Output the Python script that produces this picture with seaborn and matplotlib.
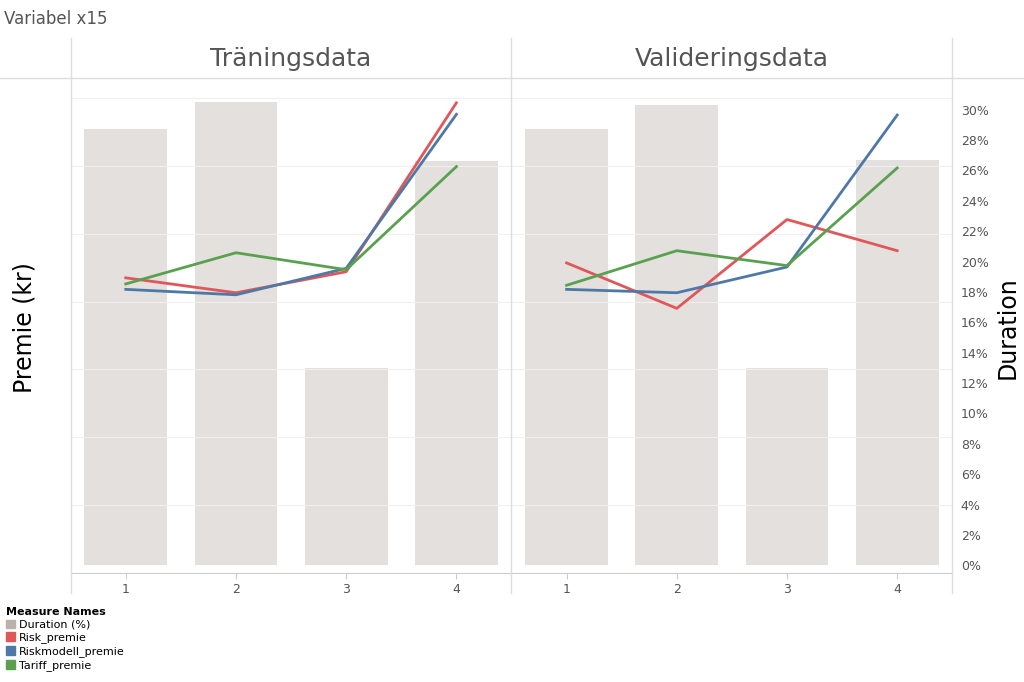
import matplotlib.pyplot as plt
import pandas as pd
import seaborn as sns
from matplotlib.lines import Line2D
from matplotlib.patches import Patch

groups = ["1", "2", "3", "4"]
panels = ["Träningsdata", "Valideringsdata"]
duration = {
    "Träningsdata": [28.75, 30.5, 13.0, 26.6],
    "Valideringsdata": [28.75, 30.3, 13.0, 26.7],
}
risk_premie = {
    "Träningsdata": [435, 413, 444, 693],
    "Valideringsdata": [457, 390, 521, 475],
}
riskmodell_premie = {
    "Träningsdata": [418, 410, 449, 676],
    "Valideringsdata": [418, 413, 451, 675],
}
tariff_premie = {
    "Träningsdata": [426, 472, 447, 599],
    "Valideringsdata": [424, 475, 453, 597],
}
colors = {"Duration (%)": "#bab0ac", "Risk_premie": "#e15759",
          "Riskmodell_premie": "#4e79a7", "Tariff_premie": "#59a14f"}
bar_color = "#e4e0de"
grey = "#555555"

fig = plt.figure(figsize=(10.24, 6.82), dpi=100)
x0, pw = 0.069, 0.4305
bottom, height = 0.160, 0.726

for i, panel in enumerate(panels):
    ax = fig.add_axes([x0 + i * pw, bottom, pw, height])
    bars = pd.DataFrame({"grupp": groups, "duration": duration[panel]})
    sns.barplot(data=bars, x="grupp", y="duration", color=bar_color,
                width=0.75, saturation=1, ax=ax)

    lx = ax.twinx()
    lines = pd.DataFrame({
        "x": list(range(4)) * 3,
        "premie": risk_premie[panel] + riskmodell_premie[panel] + tariff_premie[panel],
        "serie": ["Risk_premie"] * 4 + ["Riskmodell_premie"] * 4 + ["Tariff_premie"] * 4,
    })
    sns.lineplot(data=lines, x="x", y="premie", hue="serie", palette=colors,
                 linewidth=2, legend=False, ax=lx)
    lx.set_ylim(0, 730)
    for y in range(0, 730, 100):
        lx.axhline(y, color="#f0f0f0", linewidth=0.8, zorder=0)
    lx.set_yticks([])
    lx.set_ylabel("")
    lx.set_xlabel("")
    for s in lx.spines.values():
        s.set_visible(False)

    # duration axis on the right (after twinx, which resets tick side)
    ax.set_ylim(-0.5, 32.1)
    ax.set_xlim(-0.5, 3.5)
    ax.set_yticks(range(0, 31, 2))
    ax.set_yticklabels([f"{v}%" for v in range(0, 31, 2)], fontsize=9, color=grey)
    ax.tick_params(axis="y", length=0, left=False, labelleft=False,
                   right=False, labelright=(i == 1), pad=6)
    ax.tick_params(axis="x", length=4, color="#cccccc", labelsize=9, labelcolor=grey)
    ax.set_xlabel("")
    ax.set_ylabel("")
    for s in ["top", "right", "left"]:
        ax.spines[s].set_visible(False)
    ax.spines["bottom"].set_color("#cccccc")

    fig.text(x0 + i * pw + pw / 2, 0.914, panel, ha="center", va="center",
             fontsize=18, color=grey)

# frame lines
for xf in [x0, x0 + pw, x0 + 2 * pw]:
    fig.add_artist(Line2D([xf, xf], [0.13, 0.944], color="#dddddd", lw=1))
fig.add_artist(Line2D([0, 1], [0.886, 0.886], color="#dddddd", lw=1))

fig.text(0.004, 0.972, "Variabel x15", fontsize=12, color=grey, va="center")
fig.text(0.024, 0.52, "Premie (kr)", rotation=90, fontsize=17, ha="center", va="center")
fig.text(0.984, 0.52, "Duration", rotation=90, fontsize=17, ha="center", va="center")

handles = [Patch(color=c, label=k) for k, c in colors.items()]
leg = fig.legend(handles=handles, loc="upper left", bbox_to_anchor=(-0.004, 0.125),
                 frameon=False, fontsize=8, title="Measure Names",
                 title_fontsize=8, handlelength=0.8, handleheight=0.8,
                 handletextpad=0.4, labelspacing=0.25, alignment="left")
leg.get_title().set_fontweight("bold")

fig.savefig("out.png", dpi=100)
